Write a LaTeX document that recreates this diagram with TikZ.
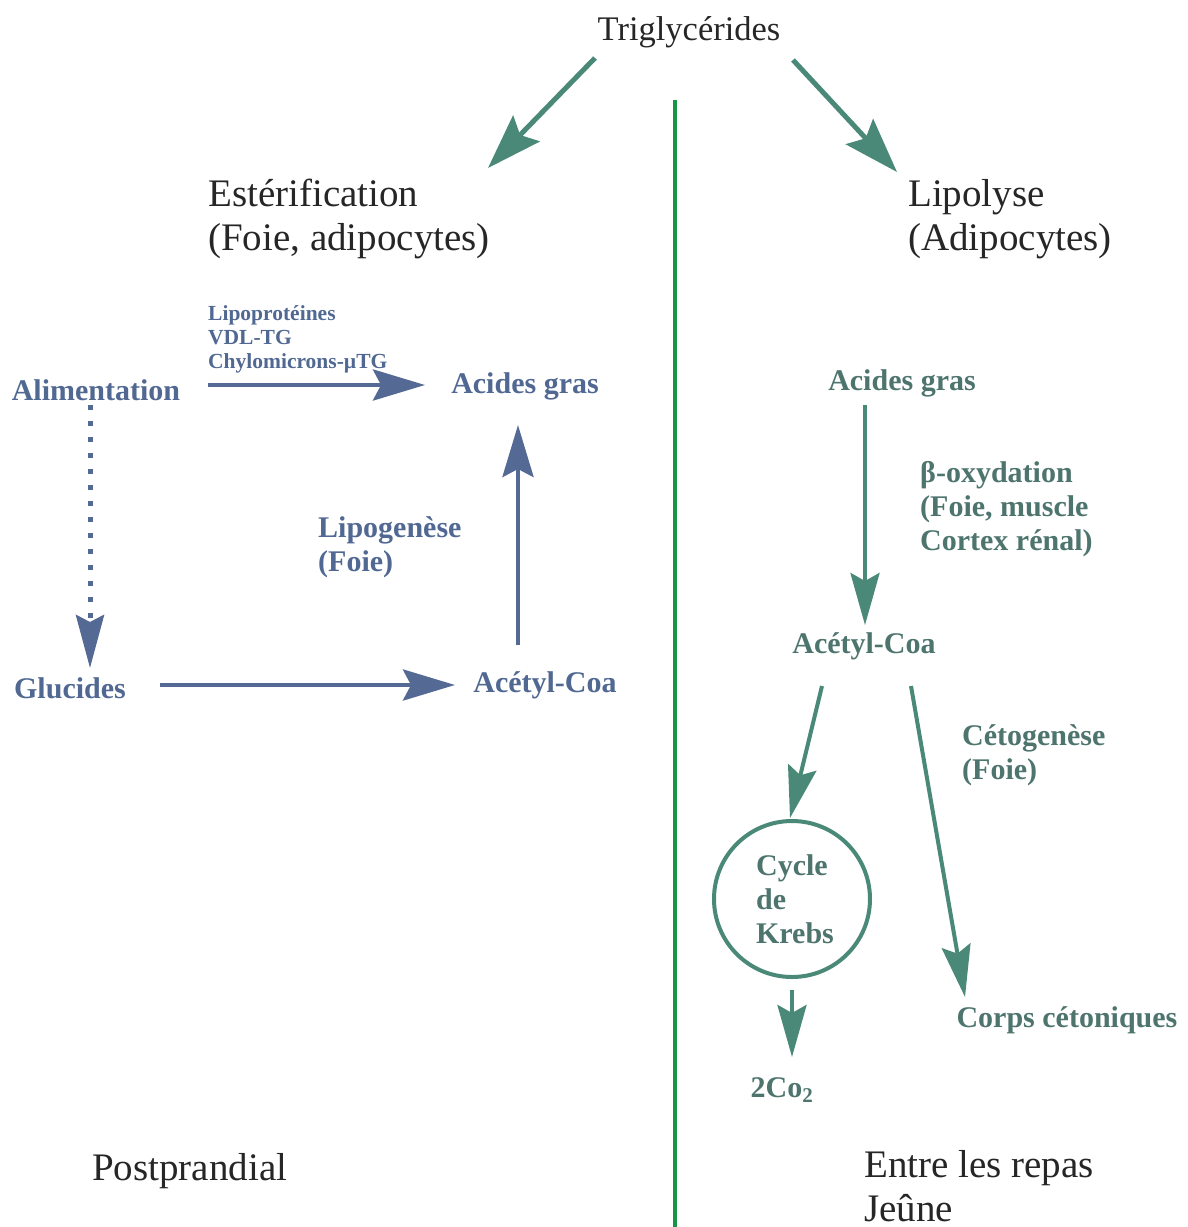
\documentclass[tikz,border=0pt]{standalone}
\usepackage{fontspec}
\setmainfont{Liberation Serif}
\usetikzlibrary{arrows.meta,calc}
\definecolor{bluetxt}{RGB}{80,104,146}
\definecolor{bluearr}{RGB}{84,106,148}
\definecolor{greentxt}{RGB}{78,116,110}
\definecolor{greenarr}{RGB}{74,136,120}
\definecolor{divider}{RGB}{22,150,70}
\tikzset{
  big/.style={inner sep=0pt, text=black!85, font=\fontsize{39}{44}\selectfont, align=left},
  trig/.style={inner sep=0pt, text=black!85, font=\fontsize{34.5}{40}\selectfont},
  lblB/.style={inner sep=0pt, text=bluetxt, font=\bfseries\fontsize{30}{34}\selectfont, align=left},
  lblBs/.style={inner sep=0pt, text=bluetxt, font=\bfseries\fontsize{21.5}{24}\selectfont, align=left},
  lblG/.style={inner sep=0pt, text=greentxt, font=\bfseries\fontsize{30}{34}\selectfont, align=left},
  arrB/.style={draw=bluearr, line width=4.5pt, -{Stealth[length=52pt,width=31pt,inset=8pt]}},
  arrG/.style={draw=greenarr, line width=4pt, -{Stealth[length=52pt,width=29pt,inset=8pt]}},
  arrT/.style={draw=greenarr, line width=5pt, -{Stealth[length=55pt,width=37pt,inset=9pt]}},
  krebsbox/.style={circle, draw=greenarr, line width=4pt, minimum size=156pt, inner sep=0pt},
}
\begin{document}
\begin{tikzpicture}[x=1pt,y=-1pt]
\useasboundingbox (0,0) rectangle (1187,1227);
% top
\node[trig] (trig) at (689,32) {Triglycérides};
\node[big, anchor=west] (est) at (208,219) {Estérification\\(Foie, adipocytes)};
\node[big, anchor=west] (lip) at (908,219) {Lipolyse\\(Adipocytes)};
\coordinate (divtop) at (675,100);
\coordinate (divbot) at (675,1227);
\draw[divider, line width=4pt] (divtop) -- (divbot);
\draw[arrT] ($(trig)+(-94,26)$) -- ($(est.west)+(280,-51)$);
\draw[arrT] ($(trig)+(104,28)$) -- ($(lip.west)+(-11,-47)$);
% left side
\node[lblB] (alim) at (96,390) {Alimentation};
\node[lblB] (agL) at (525,386) {Acides gras};
\node[lblBs, anchor=west] (lipo) at (208,339) {Lipoprotéines\\VDL-TG\\Chylomicrons-µTG};
\node[lblB] (glu) at (70,688) {Glucides};
\node[lblB] (acL) at (545,685) {Acétyl-Coa};
\node[lblB, anchor=west] (lipog) at (318,547) {Lipogenèse\\(Foie)};
\draw[arrB] ($(alim)+(112,-5)$) -- ($(agL)+(-100,-1)$);
\draw[draw=bluearr, line width=5pt, dash pattern=on 5pt off 11pt,
      -{Stealth[length=53pt,width=28pt,inset=7pt]}] ($(alim)+(-6,15)$) -- ($(glu)+(20,-20)$);
\draw[arrB] ($(glu)+(90,-3)$) -- ($(acL)+(-90,0)$);
\draw[arrB] ($(acL)+(-27,-40)$) -- ($(agL)+(-7,39)$);
% right side
\node[lblG] (agR) at (902,383) {Acides gras};
\node[lblG, anchor=west] (beta) at (920,509) {β-oxydation\\(Foie, muscle\\Cortex rénal)};
\node[lblG] (acR) at (864,646) {Acétyl-Coa};
\node[lblG, anchor=west] (ceto) at (962,755) {Cétogenèse\\(Foie)};
\node[krebsbox] (krebs) at (792,899) {};
\node[lblG] (krebsT) at (795,899) {Cycle\\de\\Krebs};
\node[lblG] (co2) at (782,1090) {2Co\textsubscript{2}};
\node[lblG] (corps) at (1067,1020) {Corps cétoniques};
\draw[arrG] ($(agR)+(-37,22)$) -- ($(acR)+(1,-21)$);
\draw[arrG] ($(acR)+(-42,40)$) -- ($(krebs.north)+(-2,-1)$);
\draw[arrG] ($(acR)+(47,40)$) -- ($(corps)+(-102,-23)$);
\draw[arrG] ($(krebs.south)+(0,11)$) -- ($(co2)+(10,-33)$);
% bottom
\node[big, anchor=west] (post) at (92,1171) {Postprandial};
\node[big, anchor=west] (entre) at (864,1186) {Entre les repas\\Jeûne};
\end{tikzpicture}
\end{document}
